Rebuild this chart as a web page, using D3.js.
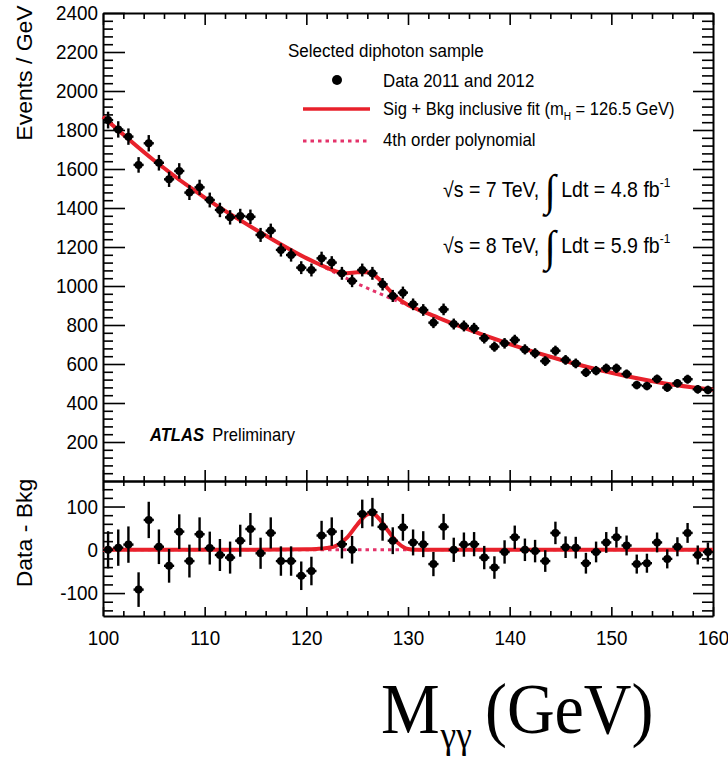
<!DOCTYPE html>
<html>
<head>
<meta charset="utf-8">
<script src="https://cdn.jsdelivr.net/npm/d3@7"></script>
<style>
  body { margin: 0; background: #fff; }
  svg { display: block; font-family: "Liberation Sans", Arial, sans-serif; }
  .axis path, .axis line { stroke: #000; }
  .axis path { stroke-width: 2; }
  .axis line { stroke-width: 1.6; }
</style>
</head>
<body>
<script>
// bin centres (GeV)
var massBins = [100.5, 101.5, 102.5, 103.5, 104.5, 105.5, 106.5, 107.5, 108.5, 109.5,
  110.5, 111.5, 112.5, 113.5, 114.5, 115.5, 116.5, 117.5, 118.5, 119.5,
  120.5, 121.5, 122.5, 123.5, 124.5, 125.5, 126.5, 127.5, 128.5, 129.5,
  130.5, 131.5, 132.5, 133.5, 134.5, 135.5, 136.5, 137.5, 138.5, 139.5,
  140.5, 141.5, 142.5, 143.5, 144.5, 145.5, 146.5, 147.5, 148.5, 149.5,
  150.5, 151.5, 152.5, 153.5, 154.5, 155.5, 156.5, 157.5, 158.5, 159.5];

// events / GeV (top panel)
var events = [1851, 1803, 1766, 1621, 1732, 1632, 1547, 1590, 1479, 1506,
  1441, 1390, 1352, 1359, 1355, 1262, 1284, 1185, 1159, 1094,
  1082, 1142, 1120, 1065, 1026, 1082, 1065, 1009, 949, 966,
  906, 877, 812, 880, 805, 795, 783, 732, 689, 706,
  723, 675, 655, 615, 668, 621, 603, 557, 566, 578,
  578, 549, 492, 487, 523, 479, 501, 522, 470, 467];

var eventErr = [43, 42, 42, 40, 42, 40, 39, 40, 38, 39,
  38, 37, 37, 37, 37, 36, 36, 34, 34, 33,
  33, 34, 33, 33, 32, 33, 33, 32, 31, 31,
  30, 30, 28, 30, 28, 28, 28, 27, 26, 27,
  27, 26, 26, 25, 26, 25, 25, 24, 24, 24,
  24, 23, 22, 22, 23, 22, 22, 23, 22, 22];

// data - bkg (bottom panel)
var residuals = [0, 5, 12, -92, 69, 7, -37, 42, -26, 36,
  4, -12, -18, 21, 48, -8, 39, -26, -26, -60,
  -49, 33, 42, 13, 0, 83, 87, 53, 21, 52,
  17, 13, -33, 53, 0, 12, 13, -18, -41, -5,
  29, 0, -3, -26, 39, 6, 5, -31, -5, 17,
  29, 10, -33, -31, 17, -21, 7, 39, -12, -5];

// fit curves
var fitMass = [100, 105, 110, 115, 120, 121, 122, 123, 124, 125, 126, 126.5, 127, 128, 129, 130, 131, 132, 135, 140, 145, 150, 155, 160];
var bkgFit = [1868, 1645, 1453, 1290, 1142, 1116, 1090, 1064, 1038, 1012, 989, 977, 966, 943, 921, 901, 879, 858, 795, 702, 622, 555, 503, 468];
var sigFit = [0, 0, 0, 0, 1, 2, 4, 10, 28, 58, 82, 84, 76, 45, 16, 2, 0, 0, 0, 0, 0, 0, 0, 0];

var topTicks = [200, 400, 600, 800, 1000, 1200, 1400, 1600, 1800, 2000, 2200, 2400];
var resTicks = [-100, 0, 100];
var massTicks = [100, 110, 120, 130, 140, 150, 160];

var W = 728, H = 764;
var plotL = 103, plotR = 713, plotT = 13, plotM = 481, plotB = 616;
var sx = 0.92;
var red = "#e8212b", pink = "#e4336a";

var svg = d3.select("body").append("svg").attr("width", W).attr("height", H);

var x = d3.scaleLinear().domain([100, 160]).range([plotL, plotR]);
var yTop = d3.scaleLinear().domain([0, 2400]).range([plotM, plotT]);
var yBot = d3.scaleLinear().domain([-153, 159]).range([plotB, plotM]);

var fmt = function (v) { return String(v); };

function minorOf(step, lo, hi, majors) {
  return d3.range(lo, hi + 0.001, step).filter(function (v) {
    return majors.indexOf(v) < 0;
  });
}

function squish(sel) {
  sel.each(function () {
    var t = d3.select(this);
    var tx = +t.attr("x") || 0;
    t.attr("x", tx / sx).attr("transform", "scale(" + sx + ",1)");
  });
}

// ---- axes ----
var xMinor = minorOf(2, 100, 160, massTicks);

function drawY(scale, majors, minors) {
  var gl = svg.append("g").attr("class", "axis").attr("transform", "translate(" + plotL + ",0)");
  gl.call(d3.axisLeft(scale).tickValues(majors).tickSizeInner(-22).tickSizeOuter(0).tickPadding(5).tickFormat(fmt));
  gl.append("g").call(d3.axisLeft(scale).tickValues(minors).tickSizeInner(-10).tickSizeOuter(0).tickFormat(""))
    .select(".domain").remove();
  gl.selectAll("text").attr("font-size", 20.5).attr("fill", "#000").attr("font-family", null).call(squish);

  var gr = svg.append("g").attr("class", "axis").attr("transform", "translate(" + plotR + ",0)");
  gr.call(d3.axisRight(scale).tickValues(majors).tickSizeInner(-20).tickSizeOuter(0).tickFormat(""));
  gr.append("g").call(d3.axisRight(scale).tickValues(minors).tickSizeInner(-11).tickSizeOuter(0).tickFormat(""))
    .select(".domain").remove();
}

drawY(yTop, topTicks, minorOf(40, 40, 2400, topTicks.concat([0])));
drawY(yBot, resTicks, minorOf(20, -140, 140, resTicks));

function drawX(yPos, dir, bigLen, smallLen, labels) {
  var mk = dir === "up" ? d3.axisBottom : d3.axisTop;
  var g = svg.append("g").attr("class", "axis").attr("transform", "translate(0," + yPos + ")");
  g.call(mk(x).tickValues(massTicks).tickSizeInner(-bigLen).tickSizeOuter(0).tickPadding(14)
    .tickFormat(labels ? fmt : ""));
  g.append("g").call(mk(x).tickValues(xMinor).tickSizeInner(-smallLen).tickSizeOuter(0).tickFormat(""))
    .select(".domain").remove();
  g.selectAll("text").attr("font-size", 20.5).attr("fill", "#000").attr("font-family", null).call(squish);
}

drawX(plotT, "down", 12, 6, false);
drawX(plotM, "up", 11, 5, false);
drawX(plotM, "down", 10, 5, false);
drawX(plotB, "up", 9, 5, true);

// ---- fits ----
var bkgLine = d3.line().curve(d3.curveMonotoneX)
  .x(function (d, i) { return x(fitMass[i]); })
  .y(function (d, i) { return yTop(bkgFit[i]); });
var fullLine = d3.line().curve(d3.curveMonotoneX)
  .x(function (d, i) { return x(fitMass[i]); })
  .y(function (d, i) { return yTop(bkgFit[i] + sigFit[i]); });
var zeroLine = d3.line()
  .x(function (d, i) { return x(fitMass[i]); })
  .y(function () { return yBot(0); });
var sigLine = d3.line().curve(d3.curveMonotoneX)
  .x(function (d, i) { return x(fitMass[i]); })
  .y(function (d, i) { return yBot(sigFit[i]); });

svg.append("path").datum(fitMass).attr("d", bkgLine)
  .attr("fill", "none").attr("stroke", pink).attr("stroke-width", 3).attr("stroke-dasharray", "3.5,4");
svg.append("path").datum(fitMass).attr("d", fullLine)
  .attr("fill", "none").attr("stroke", red).attr("stroke-width", 4);
svg.append("path").datum(fitMass).attr("d", zeroLine)
  .attr("fill", "none").attr("stroke", pink).attr("stroke-width", 3).attr("stroke-dasharray", "3.5,4");
svg.append("path").datum(fitMass).attr("d", sigLine)
  .attr("fill", "none").attr("stroke", red).attr("stroke-width", 4);

// ---- data points ----
function drawPoints(yScale, vals) {
  var g = svg.append("g");
  var pts = g.selectAll("g.pt").data(massBins).enter().append("g").attr("class", "pt");
  pts.append("line")
    .attr("x1", function (d) { return x(d - 0.5); })
    .attr("x2", function (d) { return x(d + 0.5); })
    .attr("y1", function (d, i) { return yScale(vals[i]); })
    .attr("y2", function (d, i) { return yScale(vals[i]); })
    .attr("stroke", "#000").attr("stroke-width", 2.4);
  pts.append("line")
    .attr("x1", function (d) { return x(d); })
    .attr("x2", function (d) { return x(d); })
    .attr("y1", function (d, i) { return yScale(vals[i] - eventErr[i]); })
    .attr("y2", function (d, i) { return yScale(vals[i] + eventErr[i]); })
    .attr("stroke", "#000").attr("stroke-width", 2.4);
  pts.append("circle")
    .attr("cx", function (d) { return x(d); })
    .attr("cy", function (d, i) { return yScale(vals[i]); })
    .attr("r", 4).attr("fill", "#000");
}
drawPoints(yTop, events);
drawPoints(yBot, residuals);

// ---- legend & labels ----
function txt(xp, yp, size) {
  return svg.append("text").attr("transform", "translate(" + xp + "," + yp + ") scale(" + sx + ",1)")
    .attr("font-size", size).attr("fill", "#000");
}

txt(288, 57, 18.5).text("Selected diphoton sample");
svg.append("circle").attr("cx", 337).attr("cy", 80).attr("r", 5).attr("fill", "#000");
txt(383, 87, 18.3).text("Data 2011 and 2012");
svg.append("line").attr("x1", 303).attr("x2", 370).attr("y1", 109).attr("y2", 109)
  .attr("stroke", red).attr("stroke-width", 3.5);
var sb = txt(383, 115, 18);
sb.append("tspan").text("Sig + Bkg inclusive fit (m");
sb.append("tspan").attr("font-size", 11).attr("dy", 5).text("H");
sb.append("tspan").attr("dy", -5).text(" = 126.5 GeV)");
svg.append("line").attr("x1", 303).attr("x2", 370).attr("y1", 141).attr("y2", 141)
  .attr("stroke", pink).attr("stroke-width", 3).attr("stroke-dasharray", "3.5,4");
txt(383, 146, 18.3).text("4th order polynomial");

function lumi(yp, energy, lum) {
  var t = txt(443, yp, 21.3);
  t.append("tspan").text("√s = " + energy + " TeV, ");
  t.append("tspan").attr("font-size", 44).attr("dy", 8).attr("font-family", "DejaVu Sans").attr("font-weight", "300").text("∫");
  t.append("tspan").attr("dy", -8).text(" Ldt = " + lum + " fb");
  t.append("tspan").attr("font-size", 13).attr("dy", -10).text("-1");
}
lumi(197, 7, "4.8");
lumi(253, 8, "5.9");

var atl = txt(150, 441, 18);
atl.append("tspan").attr("font-weight", "bold").attr("font-style", "italic").text("ATLAS");
atl.append("tspan").attr("dx", 9).text("Preliminary");

// axis titles
svg.append("text").attr("transform", "translate(32,73) rotate(-90) scale(1," + sx + ")")
  .attr("text-anchor", "middle").attr("font-size", 23).text("Events / GeV");
svg.append("text").attr("transform", "translate(32,533) rotate(-90) scale(1," + sx + ")")
  .attr("text-anchor", "middle").attr("font-size", 23).text("Data - Bkg");

var xt = svg.append("text").attr("transform", "translate(381,733) scale(0.93,1)")
  .attr("font-family", "'Liberation Serif', 'Times New Roman', serif").attr("font-size", 71).attr("fill", "#000");
xt.append("tspan").text("M");
xt.append("tspan").attr("font-size", 38).attr("dy", 15).attr("dx", 1).text("γγ");
xt.append("tspan").attr("dy", -15).attr("dx", 14).text("(GeV)");
</script>
</body>
</html>
